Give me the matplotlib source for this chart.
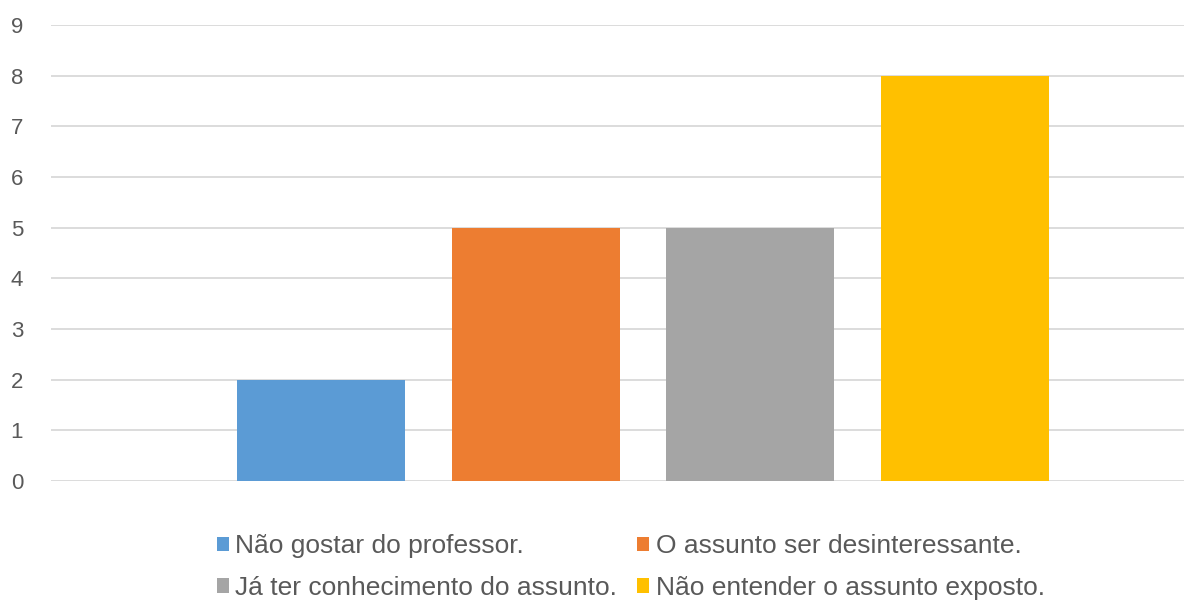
import matplotlib.pyplot as plt
from matplotlib.patches import Patch

plt.rcParams['font.family'] = ['Liberation Sans', 'DejaVu Sans']

# DATA
labels = ["Não gostar do professor.", "O assunto ser desinteressante.",
          "Já ter conhecimento do assunto.", "Não entender o assunto exposto."]
values = [2, 5, 5, 8]
colors = ["#5B9BD5", "#ED7D31", "#A5A5A5", "#FFC000"]
yticks = list(range(0, 10))

fig = plt.figure(figsize=(11.84, 6.02), dpi=100)
ax = fig.add_axes([51 / 1184, 1 - 481 / 602, 1 - 51 / 1184, (481 - 25) / 602])

pos = list(range(len(values)))
ax.bar(pos, values, width=0.7825, color=colors, zorder=3)

ax.set_ylim(0, 9)
ax.set_xlim(-1.2576, 4.02)
ax.set_yticks(yticks)
ax.set_xticks([])
ax.grid(axis='y', color='#D9D9D9', linewidth=1.3, zorder=0)
for s in ax.spines.values():
    s.set_visible(False)
ax.tick_params(axis='y', length=0, pad=20, labelsize=16, labelcolor='#595959')

# legend: column order so rows read blue/orange, gray/yellow
order = [0, 2, 1, 3]
handles = [Patch(facecolor=colors[i], edgecolor='none') for i in order]
leg = fig.legend(handles, [labels[i] for i in order], ncol=2,
                 loc='upper left', bbox_to_anchor=(217 / 1184, 1 - 534 / 602),
                 frameon=False, fontsize=19, handlelength=0.45, handleheight=0.45,
                 handletextpad=0.25, columnspacing=0.75, labelspacing=0.68,
                 borderaxespad=0, borderpad=0)
for t in leg.get_texts():
    t.set_color('#595959')

fig.savefig('out.png', dpi=100)
